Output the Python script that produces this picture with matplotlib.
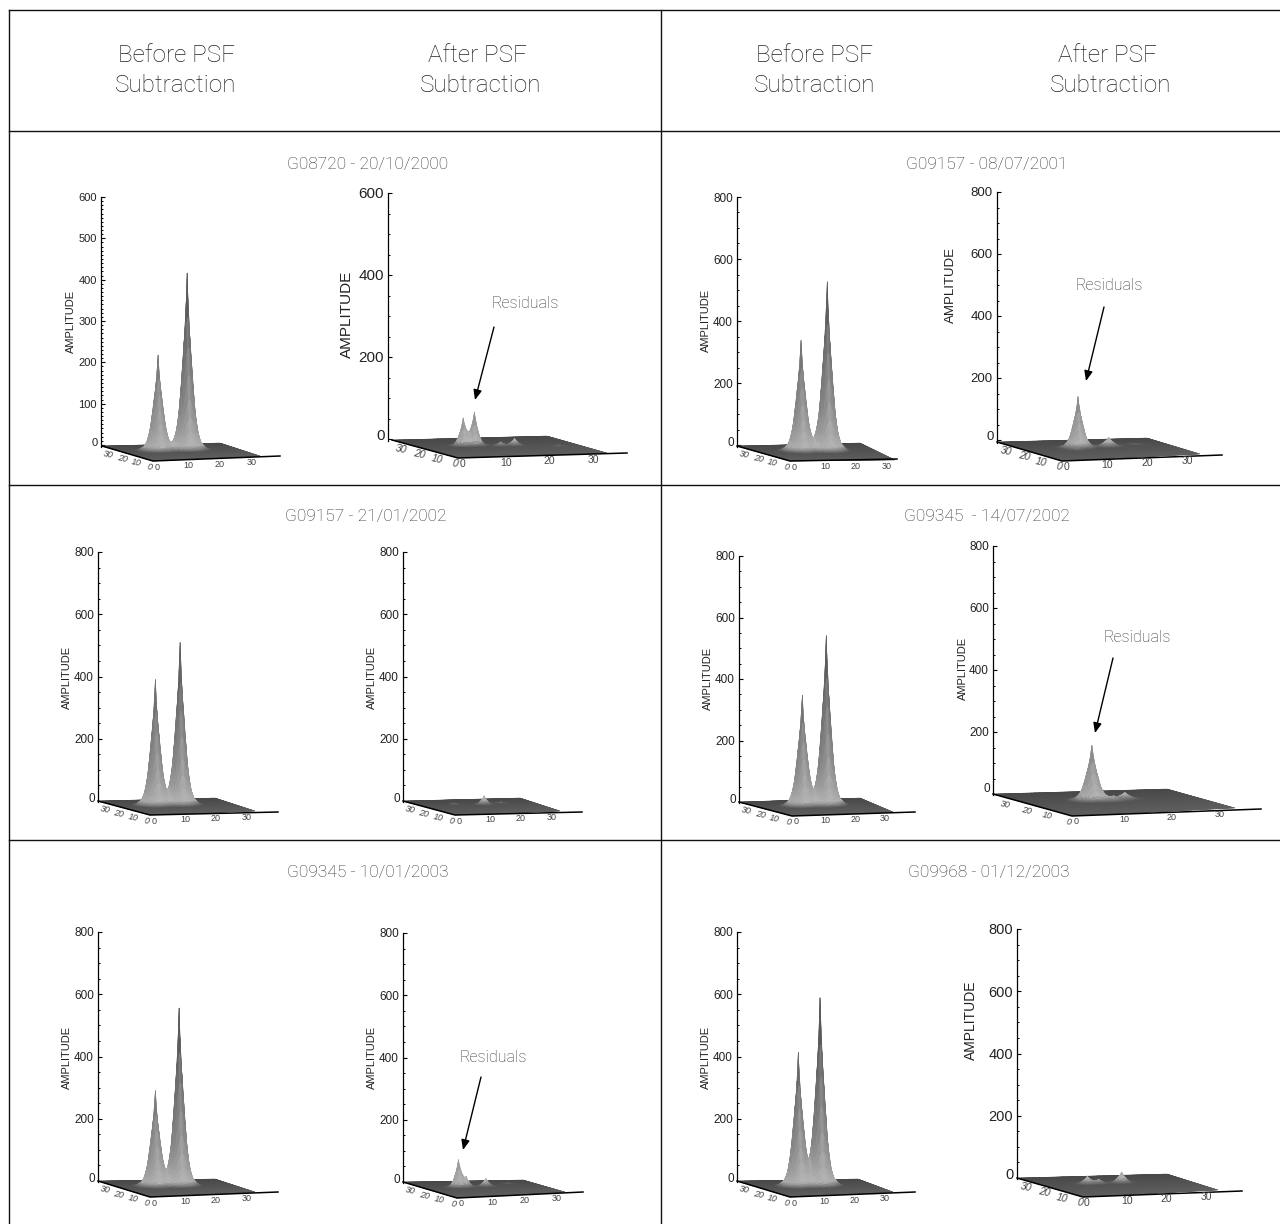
import numpy as np
import matplotlib
matplotlib.use("Agg")
import matplotlib.pyplot as plt
from matplotlib.collections import PolyCollection

W, H = 1280, 1224
FONT = "Roboto"
TICK_FONT = "Liberation Sans"

HEADERS_LINE1 = ["Before PSF", "After PSF", "Before PSF", "After PSF"]
HEADERS_LINE2 = ["Subtraction"] * 4
TITLES = ["G08720 - 20/10/2000", "G09157 - 08/07/2001", "G09157 - 21/01/2002",
          "G09345  - 14/07/2002", "G09345 - 10/01/2003", "G09968 - 01/12/2003"]
RESIDUAL_LABEL = "Residuals"
AXIS_LABEL = "AMPLITUDE"

# amplitude axis of each panel
Y_MAX = [600, 600, 800, 800, 800, 800, 800, 800, 800, 800, 800, 800]
Y_STEP = [100, 200, 200, 200, 200, 200, 200, 200, 200, 200, 200, 200]
Y_MINOR = [10, 50, 50, 50, 50, 50, 50, 50, 50, 50, 50, 50]
GROUND_U_TICKS = [10, 20, 30]
GROUND_V_TICKS = [10, 20, 30]
GROUND_U_MAX = 34
GROUND_V_MAX = 37

# peaks in each panel: ground position and amplitude
PEAK_U = [[10.6, 19.3], [9.9, 12.4, 20.6, 17.5, 29],
          [12.5, 20.2], [12.8, 20, 11, 27],
          [11, 18.5], [18.2, 10, 24],
          [12.6, 19.8], [13.4, 20, 17],
          [11, 18.2], [9.9, 18, 12.2, 26],
          [11.9, 18.4], [18.4, 10.3, 13]]
PEAK_V = [[22, 22], [22, 22, 20, 20, 16],
          [22, 22], [22, 22, 18, 24],
          [22, 22], [22, 24, 24],
          [22, 22], [22, 22, 20],
          [22, 22], [22, 22, 22, 26],
          [22, 22], [22, 22, 22]]
PEAK_AMP = [[232, 428], [66, 80, 17, 10, 4],
            [358, 545], [165, 30, 8, 4],
            [405, 522], [29, 6, 6],
            [361, 552], [178, 22, 14],
            [308, 571], [87, 26, 29, 5],
            [430, 603], [35, 25, 14]]
PEAK_WIDTH = [0.9, 0.5, 0.9, 0.7, 0.9, 0.6, 0.9, 0.7, 0.9, 0.6, 0.9, 0.6]

# radial peak profile (ground units, fraction of height)
PROFILE_R = [0.0, 0.4, 0.9, 1.6, 2.5, 3.4, 4.4, 6.0, 7.5]
PROFILE_F = [1.0, 0.80, 0.64, 0.44, 0.22, 0.10, 0.04, 0.01, 0.0]

# ---- layout, in reference pixels ----
SPINE_X = [101, 388, 737, 997, 98, 403, 739, 993, 98, 403, 737, 1017]
ZERO_Y = [445, 439, 445, 440, 801, 801, 802, 794, 1181, 1182, 1181, 1178]
TOP_Y = [197, 193, 197, 192, 552, 552, 556, 546, 932, 933, 932, 929]
FLOOR_O = [(153, 461), (458, 458), (790, 461), (1062, 461), (150, 815), (455, 815),
           (792, 816), (1072, 816), (150, 1197), (457, 1198), (790, 1197), (1083, 1197)]
FLOOR_R = [(260, 456), (607, 453), (895, 460), (1200, 454), (255, 811), (560, 811),
           (893, 812), (1235, 808), (255, 1192), (565, 1192), (893, 1192), (1218, 1190)]
FLOOR_B = [(220, 443), (547, 436), (860, 443), (1147, 438), (215, 798), (520, 798),
           (860, 798), (1167, 789), (215, 1179), (523, 1180), (858, 1179), (1167, 1174)]
FLOOR_L = [(102, 446), (392, 440), (737, 446), (997, 442), (98, 801), (403, 801),
           (739, 802), (993, 794), (98, 1181), (403, 1182), (737, 1181), (1017, 1178)]
AXIS_END = [(280, 456), (627, 453), (897, 459), (1222, 455), (278, 812), (582, 812),
            (915, 812), (1261, 809), (278, 1192), (583, 1192), (915, 1192), (1242, 1191)]
TICK_SIZE = [8, 11, 8.5, 9.5, 8.5, 8.5, 8.5, 8.5, 8.5, 8.5, 8.5, 10.5]
LABEL_SIZE = [8, 11, 8, 9.5, 8, 8, 8, 8, 8, 8, 8, 10]
LABEL_POS = [(71, 321), (347, 314), (706, 320), (951, 285), (67, 677), (372, 677),
             (708, 678), (963, 668), (67, 1057), (372, 1057), (706, 1057), (971, 1020)]
ZERO_SHIFT = [2, 3, 2, 3, 2, 2, 2, 5, 2, 2, 2, 3]
RESIDUAL_TEXT = [(525, 304), (1109, 285), (1137, 637), (493, 1058)]
RESIDUAL_ARROW = [((494, 327), (475, 400)), ((1104, 307), (1086, 381)),
                  ((1113, 658), (1095, 733)), ((481, 1077), (463, 1150))]
HEADER_X1 = [176, 477, 815, 1107]
HEADER_X2 = [176, 481, 815, 1111]
TITLE_XY = [(368, 164), (987, 164), (366, 517), (987, 517), (368, 873), (989, 873)]

fig = plt.figure(figsize=(W / 100, H / 100), dpi=100, facecolor="white")


def surface(ax, i, scale, x0, y0):
    O, R, B, L = [np.array(c[i], float) for c in (FLOOR_O, FLOOR_R, FLOOR_B, FLOOR_L)]
    us = np.union1d(np.arange(0, GROUND_U_MAX + 0.01, 0.5), PEAK_U[i])
    vs = np.union1d(np.arange(0, GROUND_V_MAX + 0.01, 0.5), PEAK_V[i])
    U, V = np.meshgrid(us, vs)
    Z = np.zeros_like(U)
    for pu, pv, pa in zip(PEAK_U[i], PEAK_V[i], PEAK_AMP[i]):
        r = np.hypot(U - pu, V - pv) / PEAK_WIDTH[i]
        Z += pa * np.interp(r, PROFILE_R, PROFILE_F)
    s, t = U / GROUND_U_MAX, V / GROUND_V_MAX
    s3, t3 = s[..., None], t[..., None]
    P = (1 - s3) * (1 - t3) * O + s3 * (1 - t3) * R + s3 * t3 * B + (1 - s3) * t3 * L
    X = P[..., 0] - x0
    Y = (y0 - P[..., 1]) / scale + Z
    hpx = Z * scale
    verts, cols = [], []
    for a in range(len(vs) - 2, -1, -1):
        for b in range(len(us) - 1):
            idx = [(a, b), (a, b + 1), (a + 1, b + 1), (a + 1, b)]
            verts.append([(X[k], Y[k]) for k in idx])
            h = np.mean([hpx[k] for k in idx])
            slope = (hpx[a, b + 1] + hpx[a + 1, b + 1] - hpx[a, b] - hpx[a + 1, b]) / 2
            slope /= (us[b + 1] - us[b])
            tt = t[a, b]
            floor = 0.37 - 0.09 * tt
            lit = 0.72 - 0.20 * min(h / 150, 1) - 0.24 * abs(slope) / (abs(slope) + 25)
            blend = min(h / 5, 1)
            g = floor + (lit - floor) * blend
            cols.append((g, g, g))
    pc = PolyCollection(verts, facecolors=cols, edgecolors=cols, linewidths=0.3, zorder=2)
    ax.add_collection(pc)


for i in range(12):
    x0, y0, yt = SPINE_X[i], ZERO_Y[i], TOP_Y[i]
    scale = (y0 - yt) / Y_MAX[i]
    xr = AXIS_END[i][0] + 10
    yb = max(FLOOR_O[i][1], AXIS_END[i][1]) + 4
    ax = fig.add_axes([x0 / W, 1 - yb / H, (xr - x0) / W, (yb - (yt - 4)) / H])
    ax.set_xlim(0, xr - x0)
    ax.set_ylim((y0 - yb) / scale, (y0 - (yt - 4)) / scale)
    ax.patch.set_alpha(0)
    for sp in ("top", "right", "bottom"):
        ax.spines[sp].set_visible(False)
    ax.spines["left"].set_bounds((y0 - FLOOR_L[i][1] - 1) / scale, Y_MAX[i])
    ax.spines["left"].set_linewidth(0.9)
    ax.set_xticks([])
    ticks = np.arange(0, Y_MAX[i] + 1, Y_STEP[i])
    ax.set_yticks(ticks)
    ax.set_yticklabels(["" if v == 0 else str(int(v)) for v in ticks],
                       fontsize=TICK_SIZE[i], family=TICK_FONT, color="#222222")
    ax.set_yticks(np.arange(0, Y_MAX[i] + 1, Y_MINOR[i]), minor=True)
    ax.tick_params(axis="y", which="major", direction="in", length=3, width=0.8, pad=3)
    ax.tick_params(axis="y", which="minor", direction="in", length=1.5, width=0.7)
    ax.text(-3 - 0.0, (ZERO_SHIFT[i]) / scale, "0", ha="right", va="center",
            fontsize=TICK_SIZE[i], family=TICK_FONT, color="#222222")
    surface(ax, i, scale, x0, y0)

overlay = fig.add_axes([0, 0, 1, 1], zorder=10)
overlay.set_xlim(0, W)
overlay.set_ylim(H, 0)
overlay.axis("off")
overlay.patch.set_alpha(0)

# table rules
for y in (10, 131, 485, 840):
    overlay.plot([9, W], [y, y], color="#111111", lw=1.0)
overlay.plot([9, 9], [10, H], color="#111111", lw=1.0)
overlay.plot([661, 661], [10, H], color="#111111", lw=1.0)

# ground axes and their labels
for i in range(12):
    O, R, L, E = FLOOR_O[i], FLOOR_R[i], FLOOR_L[i], AXIS_END[i]
    overlay.plot([L[0], O[0], E[0]], [L[1], O[1], E[1]], color="black", lw=1.1)
    du = (R[0] - O[0]) / GROUND_U_MAX, (R[1] - O[1]) / GROUND_U_MAX
    dv = (L[0] - O[0]) / GROUND_V_MAX, (L[1] - O[1]) / GROUND_V_MAX
    fs = 6.5 if TICK_SIZE[i] < 9 else 7.5
    for u in [0] + GROUND_U_TICKS:
        overlay.text(O[0] + 4 + du[0] * u, O[1] + 6 + du[1] * u, str(u), fontsize=fs,
                     ha="center", va="center", color="#444444", family=TICK_FONT)
    for v in [0] + GROUND_V_TICKS:
        overlay.text(O[0] - 3 + dv[0] * v, O[1] + 6 + dv[1] * v, str(v), fontsize=fs, style="italic",
                     ha="center", va="center", color="#444444", family=TICK_FONT, rotation=-12)
    overlay.text(LABEL_POS[i][0], LABEL_POS[i][1], AXIS_LABEL, rotation=90, fontsize=LABEL_SIZE[i],
                 ha="center", va="center", color="#222222", family=TICK_FONT)

# text
for x1, x2, a, b in zip(HEADER_X1, HEADER_X2, HEADERS_LINE1, HEADERS_LINE2):
    overlay.text(x1, 56, a, fontsize=17.5, ha="center", va="center", family=FONT, weight="light", color="#222222")
    overlay.text(x2, 86, b, fontsize=17.5, ha="center", va="center", family=FONT, weight="light", color="#222222")
for (x, y), t in zip(TITLE_XY, TITLES):
    overlay.text(x, y, t, fontsize=12.5, ha="center", va="center", family=FONT, weight="light", color="#333333")
for (x, y), (p0, p1) in zip(RESIDUAL_TEXT, RESIDUAL_ARROW):
    overlay.text(x, y, RESIDUAL_LABEL, fontsize=11.5, ha="center", va="center", family=FONT, weight="light",
                 color="#333333")
    overlay.annotate("", xy=p1, xytext=p0,
                     arrowprops=dict(arrowstyle="-|>,head_width=0.25,head_length=0.6", color="black", lw=1.0,
                                     shrinkA=0, shrinkB=0))

fig.savefig("out.png", dpi=100, facecolor="white")
